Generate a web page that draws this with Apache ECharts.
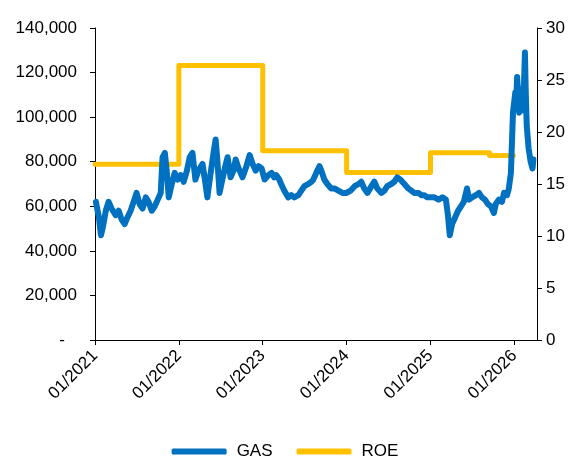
<!DOCTYPE html>
<html>
<head>
<meta charset="utf-8">
<script src="https://cdn.jsdelivr.net/npm/echarts@6/dist/echarts.min.js"></script>
<style>
  html, body { margin: 0; padding: 0; background: #fff; }
  #chart { width: 570px; height: 462px; }
</style>
</head>
<body>
<div id="chart"></div>
<script>
// GAS share price (left axis)
const gasDates = [
    '2021-01-05', '2021-01-18', '2021-01-27', '2021-02-05', '2021-02-17', '2021-03-01', '2021-03-14',
    '2021-04-01', '2021-04-14', '2021-04-27', '2021-05-10', '2021-05-22', '2021-06-05', '2021-06-18',
    '2021-07-01', '2021-07-14', '2021-07-27', '2021-08-10', '2021-08-22', '2021-09-05', '2021-09-18',
    '2021-10-01', '2021-10-14', '2021-10-22', '2021-11-01', '2021-11-09', '2021-11-18', '2021-12-01',
    '2021-12-14', '2021-12-27',
    '2022-01-09', '2022-01-22', '2022-02-05', '2022-02-17', '2022-03-01', '2022-03-14', '2022-03-27',
    '2022-04-14', '2022-04-27', '2022-05-05', '2022-05-18', '2022-06-01', '2022-06-10', '2022-06-18',
    '2022-06-27', '2022-07-09', '2022-07-22', '2022-08-01', '2022-08-14', '2022-08-27', '2022-09-05',
    '2022-09-18', '2022-10-05', '2022-10-22', '2022-11-05', '2022-11-18', '2022-12-01', '2022-12-14',
    '2022-12-27',
    '2023-01-09', '2023-01-26', '2023-02-08', '2023-02-20', '2023-03-01', '2023-03-14', '2023-03-22',
    '2023-04-05', '2023-04-22', '2023-05-05', '2023-05-18', '2023-06-05', '2023-06-18', '2023-07-01',
    '2023-07-18', '2023-08-01', '2023-08-09', '2023-08-22', '2023-09-05', '2023-09-13', '2023-09-26',
    '2023-10-09', '2023-10-26', '2023-11-09', '2023-11-26', '2023-12-14',
    '2024-01-01', '2024-01-18', '2024-02-05', '2024-02-22', '2024-03-05', '2024-03-18', '2024-04-01',
    '2024-04-18', '2024-05-01', '2024-05-14', '2024-06-01', '2024-06-14', '2024-06-26', '2024-07-14',
    '2024-07-27', '2024-08-09', '2024-08-22', '2024-09-09', '2024-09-26', '2024-10-09', '2024-10-22',
    '2024-11-09', '2024-11-22', '2024-12-05', '2024-12-18',
    '2025-01-01', '2025-01-18', '2025-02-05', '2025-02-22', '2025-03-09', '2025-03-18', '2025-03-26',
    '2025-04-05', '2025-04-18', '2025-05-01', '2025-05-14', '2025-05-26', '2025-06-09', '2025-06-18',
    '2025-07-01', '2025-07-18', '2025-07-31', '2025-08-13', '2025-08-26', '2025-09-08', '2025-09-21',
    '2025-10-04', '2025-10-12', '2025-10-26', '2025-11-08', '2025-11-17', '2025-11-30', '2025-12-08',
    '2025-12-17', '2025-12-22', '2025-12-26',
    '2026-01-05', '2026-01-09', '2026-01-13', '2026-01-22', '2026-01-30', '2026-02-03', '2026-02-12',
    '2026-02-16', '2026-02-20', '2026-02-24', '2026-03-04', '2026-03-13', '2026-03-21', '2026-03-25'
];
const gasValues = [
    62000, 55000, 47000, 51000, 58000, 62000, 59000,
    56000, 58000, 54000, 52000, 55000, 58000, 62000,
    66000, 61000, 59000, 64000, 62000, 58000, 60000,
    63000, 66000, 82000, 84000, 76000, 64000, 70000,
    75000, 72000,
    74000, 71000, 76000, 82000, 84000, 72000, 76000,
    79000, 70000, 64000, 74000, 84000, 90000, 80000,
    66000, 72000, 78000, 82000, 73000, 76000, 81000,
    77000, 73000, 78000, 83000, 79000, 76000, 78000,
    77000,
    72000, 74000, 75000, 73000, 74000, 72000, 70000,
    67000, 64000, 65000, 64000, 65000, 67000, 69000,
    70000, 71000, 72000, 75000, 78000, 76000, 72000,
    70000, 68000, 68000, 67000, 66000,
    66000, 67000, 69000, 70000, 71000, 68000, 66000,
    69000, 71000, 68000, 66000, 67000, 69000, 70000,
    71000, 73000, 72000, 70000, 68000, 67000, 66000,
    66000, 65000, 65000, 64000,
    64000, 64000, 63000, 64000, 63000, 56000, 47000,
    52000, 55000, 58000, 60000, 62000, 68000, 63000,
    64000, 65000, 66000, 64000, 63000, 61000, 60000,
    57000, 61000, 63000, 62000, 66000, 65000, 68000,
    75000, 90000, 102000,
    111000, 106000, 118000, 102000, 108000, 103000, 115000,
    129000, 110000, 96000, 86000, 80000, 77000, 81000
];

// ROE, % (right axis)
const roeDates = ['2021-01-01', '2022-01-01', '2023-01-01', '2024-01-01', '2025-01-01', '2025-09-15', '2025-12-28'];
const roeValues = [16.9, 26.4, 18.2, 16.1, 18.0, 17.75, 17.75];

const xTickYears = [2021, 2022, 2023, 2024, 2025, 2026];

function toYear(s) {
    const [y, m, d] = s.split('-').map(Number);
    const start = Date.UTC(y, 0, 1);
    const end = Date.UTC(y + 1, 0, 1);
    return y + (Date.UTC(y, m - 1, d) - start) / (end - start);
}

const font = 'Liberation Sans, Arial, sans-serif';
const fontSize = 17;

const chart = echarts.init(document.getElementById('chart'));
chart.setOption({
    animation: false,
    grid: {
        left: 95,
        right: 33,
        top: 28,
        bottom: 122
    },
    legend: {
        bottom: 2,
        padding: 0,
        left: 'center',
        itemWidth: 55,
        itemHeight: 6,
        itemGap: 24,
        icon: 'roundRect',
        textStyle: {fontFamily: font, fontSize: fontSize, color: '#000', padding: [0, 0, 0, 5]},
        data: ['GAS', 'ROE']
    },
    xAxis: {
        type: 'value',
        min: xTickYears[0],
        max: 2026.27,
        interval: 1,
        splitLine: {show: false},
        axisLine: {lineStyle: {color: '#000', width: 1}},
        axisTick: {show: true, length: 5, lineStyle: {color: '#000'}},
        axisLabel: {
            rotate: 45,
            margin: 13,
            fontFamily: font,
            fontSize: fontSize,
            color: '#000',
            showMaxLabel: false,
            formatter: function (value) {
                return '01/' + Math.round(value);
            }
        }
    },
    yAxis: [{
        type: 'value',
        min: 0,
        max: 140000,
        interval: 20000,
        splitLine: {show: false},
        axisLine: {show: true, lineStyle: {color: '#000', width: 1}},
        axisTick: {show: true, length: 5, lineStyle: {color: '#000'}},
        axisLabel: {
            margin: 18,
            fontFamily: font,
            fontSize: fontSize,
            color: '#000',
            formatter: function (value) {
                if (value === 0) {
                    return '{dash|-}';
                }
                return value.toLocaleString('en-US');
            },
            rich: {
                dash: {fontFamily: font, fontSize: fontSize, color: '#000', padding: [0, 12, 0, 0]}
            }
        }
    }, {
        type: 'value',
        position: 'right',
        min: 0,
        max: 30,
        interval: 5,
        splitLine: {show: false},
        axisLine: {show: true, lineStyle: {color: '#000', width: 1}},
        axisTick: {show: true, length: 5, lineStyle: {color: '#000'}},
        axisLabel: {
            margin: 9,
            fontFamily: font,
            fontSize: fontSize,
            color: '#000'
        }
    }],
    series: [{
        name: 'GAS',
        type: 'line',
        yAxisIndex: 0,
        showSymbol: false,
        data: gasDates.map((d, i) => [toYear(d), gasValues[i]]),
        itemStyle: {color: '#0070C0'},
        lineStyle: {color: '#0070C0', width: 6, join: 'round', cap: 'round'},
        z: 3
    }, {
        name: 'ROE',
        type: 'line',
        yAxisIndex: 1,
        step: 'end',
        showSymbol: false,
        data: roeDates.map((d, i) => [toYear(d), roeValues[i]]),
        itemStyle: {color: '#FFC000'},
        lineStyle: {color: '#FFC000', width: 5, join: 'round', cap: 'round'},
        z: 2
    }]
});
</script>
</body>
</html>
